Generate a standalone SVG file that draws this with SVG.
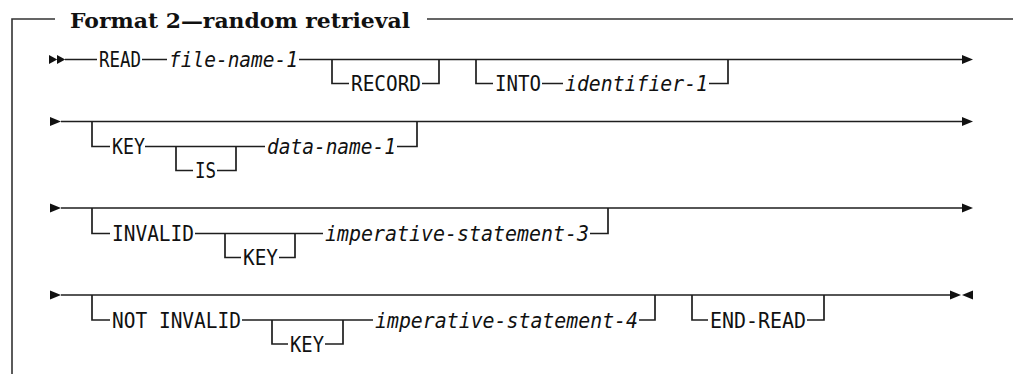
<svg xmlns="http://www.w3.org/2000/svg" xmlns:xlink="http://www.w3.org/1999/xlink" width="1013" height="374" viewBox="0 0 1013 374">
<style>
.ln{fill:none;stroke:#1e1e1e;stroke-width:1.7}
.rule{fill:none;stroke:#333;stroke-width:1.6}
.kw{font-family:"DejaVu Sans Mono",monospace;font-size:20.5px;fill:#111}
.var{font-family:"DejaVu Sans Mono",monospace;font-size:20.5px;font-style:italic;fill:#111}
.title{font-family:"DejaVu Serif",serif;font-size:20.5px;font-weight:bold;fill:#111}
.ah{fill:#111}
</style>
<defs>
<polygon id="r" class="ah" points="0,-4.5 11,0 0,4.5"/>
<polygon id="l" class="ah" points="0,-4.5 -11,0 0,4.5"/>
</defs>
<rect width="1013" height="374" fill="#fff"/>
<g id="title">
<text class="title" x="70" y="28" textLength="340" lengthAdjust="spacingAndGlyphs">Format 2—random retrieval</text>
</g>
<g id="connectors">
<path class="rule" d="M12,374 V19 H55 M427,19 H1013"/>
<use xlink:href="#r" transform="translate(49,59.5) scale(0.75,1)"/>
<use xlink:href="#r" transform="translate(57,59.5) scale(0.75,1)"/>
<path class="ln" d="M65,59.5 H97 M142,59.5 H167 M299,59.5 H963"/>
<path class="ln" d="M332,59.5 V83.5 H349 M422,83.5 H439 V59.5"/>
<path class="ln" d="M476,59.5 V83.5 H493 M542,83.5 H563 M709,83.5 H728 V59.5"/>
<use xlink:href="#r" transform="translate(962,59.5)"/>
<use xlink:href="#r" transform="translate(50,121.5)"/>
<path class="ln" d="M61,121.5 H963"/>
<path class="ln" d="M92,121.5 V146.5 H110 M145,146.5 H265 M397,146.5 H417 V121.5"/>
<path class="ln" d="M176,146.5 V170.5 H193 M217,170.5 H236 V146.5"/>
<use xlink:href="#r" transform="translate(962,121.5)"/>
<use xlink:href="#r" transform="translate(50,208)"/>
<path class="ln" d="M61,208 H963"/>
<path class="ln" d="M92,208 V233.5 H110 M195,233.5 H323 M590,233.5 H608 V208"/>
<path class="ln" d="M225,233.5 V257.5 H241 M279,257.5 H295 V233.5"/>
<use xlink:href="#r" transform="translate(962,208)"/>
<use xlink:href="#r" transform="translate(50,295)"/>
<path class="ln" d="M61,295 H951"/>
<path class="ln" d="M92,295 V320 H110 M242,320 H373 M639,320 H655 V295"/>
<path class="ln" d="M272,320 V344 H288 M325,344 H343 V320"/>
<path class="ln" d="M692,295 V320 H708 M807,320 H824 V295"/>
<use xlink:href="#r" transform="translate(950,295)"/>
<use xlink:href="#l" transform="translate(973,295)"/>
</g>
<g id="n-read"><text class="kw" x="99" y="67" textLength="42" lengthAdjust="spacingAndGlyphs">READ</text></g>
<g id="n-file-name-1"><text class="var" x="169" y="67" textLength="129" lengthAdjust="spacingAndGlyphs">file-name-1</text></g>
<g id="n-record"><text class="kw" x="351" y="91" textLength="70" lengthAdjust="spacingAndGlyphs">RECORD</text></g>
<g id="n-into"><text class="kw" x="495" y="91" textLength="46" lengthAdjust="spacingAndGlyphs">INTO</text></g>
<g id="n-identifier-1"><text class="var" x="565" y="91" textLength="143" lengthAdjust="spacingAndGlyphs">identifier-1</text></g>
<g id="n-key-1"><text class="kw" x="112" y="154" textLength="33" lengthAdjust="spacingAndGlyphs">KEY</text></g>
<g id="n-is"><text class="kw" x="195" y="178" textLength="21" lengthAdjust="spacingAndGlyphs">IS</text></g>
<g id="n-data-name-1"><text class="var" x="267" y="154" textLength="129" lengthAdjust="spacingAndGlyphs">data-name-1</text></g>
<g id="n-invalid"><text class="kw" x="112" y="241" textLength="82" lengthAdjust="spacingAndGlyphs">INVALID</text></g>
<g id="n-key-2"><text class="kw" x="243" y="265" textLength="35" lengthAdjust="spacingAndGlyphs">KEY</text></g>
<g id="n-imp-3"><text class="var" x="325" y="241" textLength="264" lengthAdjust="spacingAndGlyphs">imperative-statement-3</text></g>
<g id="n-not-invalid"><text class="kw" x="112" y="327.5" textLength="129" lengthAdjust="spacingAndGlyphs">NOT INVALID</text></g>
<g id="n-key-3"><text class="kw" x="290" y="351.5" textLength="34" lengthAdjust="spacingAndGlyphs">KEY</text></g>
<g id="n-imp-4"><text class="var" x="375" y="327.5" textLength="263" lengthAdjust="spacingAndGlyphs">imperative-statement-4</text></g>
<g id="n-end-read"><text class="kw" x="710" y="327.5" textLength="96" lengthAdjust="spacingAndGlyphs">END-READ</text></g>
</svg>
